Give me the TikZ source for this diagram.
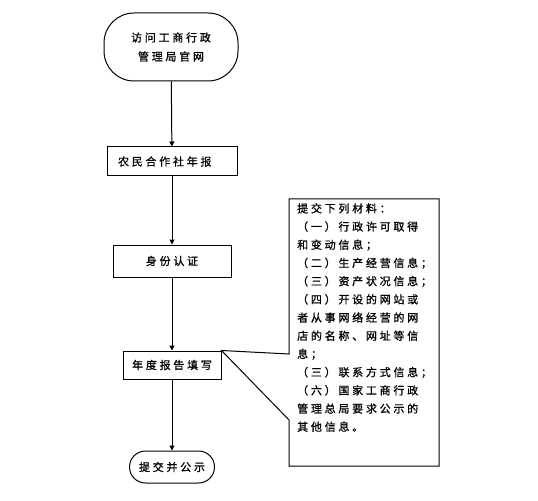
\documentclass[tikz,border=0pt]{standalone}
\usepackage{fontspec}
\usetikzlibrary{arrows.meta}
\newfontfamily\cjk[LetterSpace=25,FakeBold=0.8]{Noto Sans CJK SC}
\begin{document}
\begin{tikzpicture}[x=1bp,y=-1bp,
  base/.style={draw=black, line width=1bp, font=\cjk\fontsize{11bp}{22bp}\selectfont, inner sep=0pt, align=center},
  term/.style={base, rounded corners=#1},
  procbox/.style={base},
  flow/.style={draw=black, line width=1bp, -{Triangle[width=5bp,length=5bp]}}]
\useasboundingbox[fill=white] (0,0) rectangle (538,501);
\node[term=30bp, minimum width=134bp, minimum height=68bp] (visit) at (171,47) {访问工商行政\\[-3bp]管理局官网};
\node[procbox, minimum width=130bp, minimum height=29bp, text width=108bp, align=left] (coop) at (172,161.5) {农民合作社年报};
\node[procbox, minimum width=118bp, minimum height=32bp] (auth) at (172,261) {身份认证};
\node[procbox, minimum width=98bp, minimum height=28bp] (fill) at (172,365) {年度报告填写};
\node[term=16bp, minimum width=85bp, minimum height=32bp] (submit) at (172,467) {提交并公示};
\draw[flow] (visit) -- (coop);
\draw[flow] (coop) -- (auth);
\draw[flow] (auth) -- (fill);
\draw[flow] (fill) -- (submit);
\coordinate (c1) at (289,199);
\coordinate (c2) at (439,199);
\coordinate (c3) at (439,466);
\coordinate (c4) at (289,466);
\coordinate (p1) at (289,420);
\coordinate (p2) at (289,354);
\draw[draw=black, line width=1bp] (c1) -- (c2) -- (c3) -- (c4) -- (p1) -- (fill.north east) -- (p2) -- cycle;
\node[anchor=north west, inner sep=0pt, align=left, font=\cjk\fontsize{11bp}{18.2bp}\selectfont] (materials) at (297,203) {提交下列材料：\\（一）行政许可取得\\和变动信息；\\（二）生产经营信息；\\（三）资产状况信息；\\（四）开设的网站或\\者从事网络经营的网\\店的名称、网址等信\\息；\\（三）联系方式信息；\\（六）国家工商行政\\管理总局要求公示的\\其他信息。};
\end{tikzpicture}
\end{document}
